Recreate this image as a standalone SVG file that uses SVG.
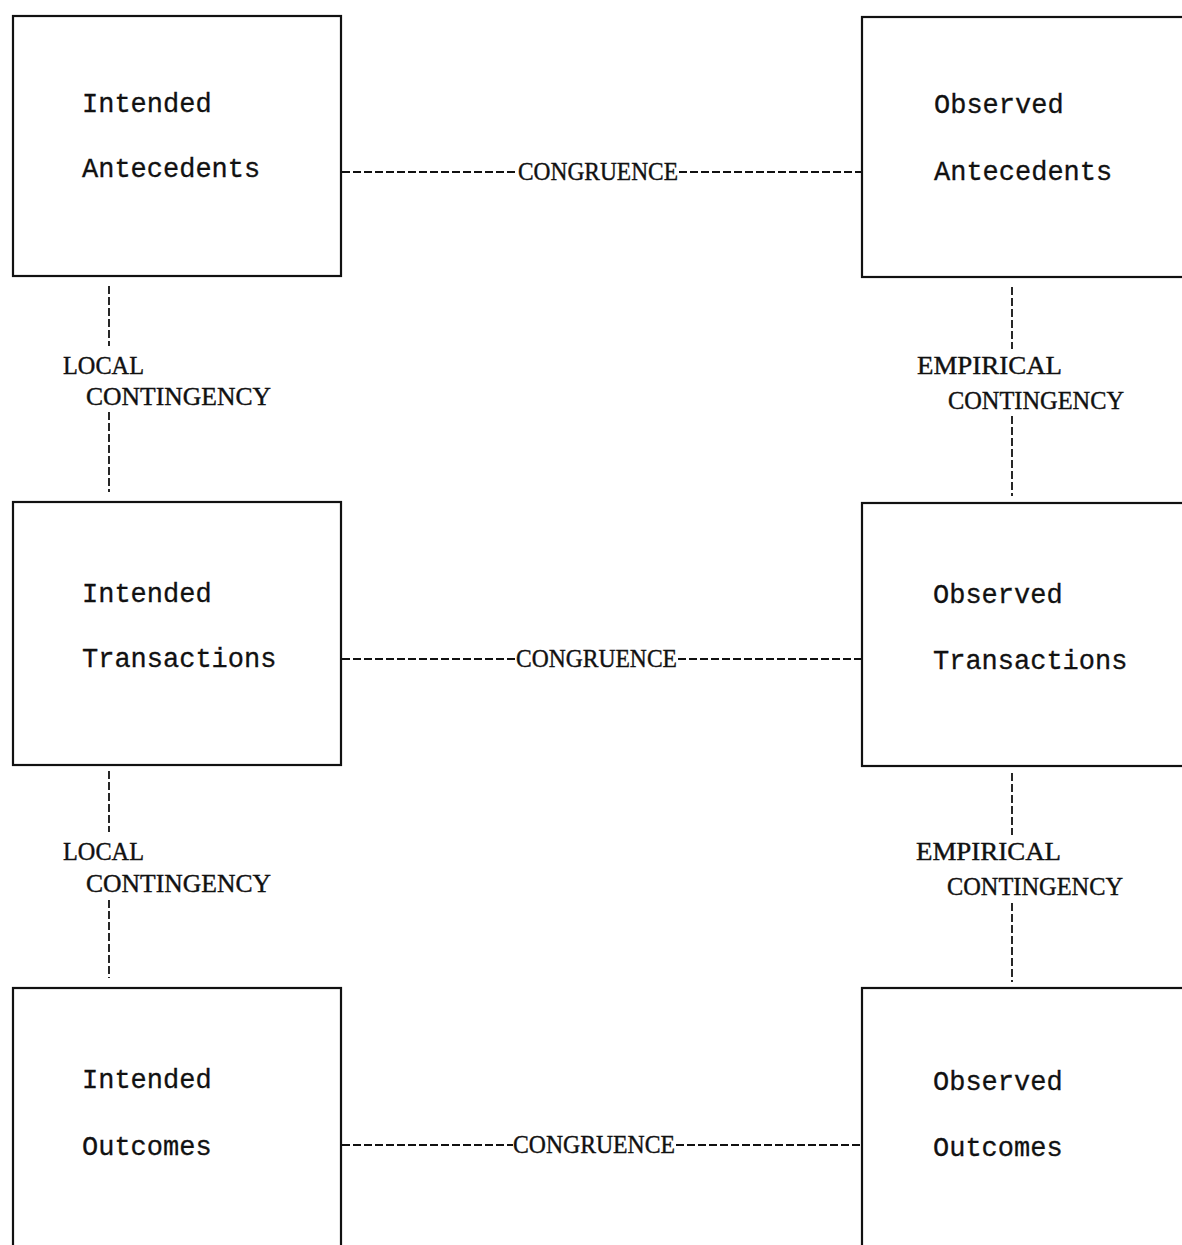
<svg xmlns="http://www.w3.org/2000/svg" width="1182" height="1245" viewBox="0 0 1182 1245">
<style>
.box{fill:none;stroke:#111;stroke-width:2.2}
.lbl{font-family:"Liberation Mono","DejaVu Sans Mono",monospace;font-size:27px;fill:#111;stroke:#111;stroke-width:0.3}
.cap{font-family:"Liberation Serif","DejaVu Serif",serif;font-size:25px;fill:#111;stroke:#111;stroke-width:0.4}
.dash{stroke:#111;stroke-width:1.8;stroke-dasharray:8 3;fill:none}
</style>
<rect width="1182" height="1245" fill="#fff"/>
<g id="intended-antecedents">
<rect class="box" x="13" y="16" width="328" height="260"/>
<text class="lbl" x="82" y="112">Intended</text>
<text class="lbl" x="82" y="177">Antecedents</text>
</g>
<g id="observed-antecedents">
<rect class="box" x="862" y="17" width="400" height="260"/>
<text class="lbl" x="934" y="113">Observed</text>
<text class="lbl" x="934" y="180">Antecedents</text>
</g>
<g id="intended-transactions">
<rect class="box" x="13" y="502" width="328" height="263"/>
<text class="lbl" x="82" y="602">Intended</text>
<text class="lbl" x="82" y="667">Transactions</text>
</g>
<g id="observed-transactions">
<rect class="box" x="862" y="503" width="400" height="263"/>
<text class="lbl" x="933" y="603">Observed</text>
<text class="lbl" x="933" y="669">Transactions</text>
</g>
<g id="intended-outcomes">
<rect class="box" x="13" y="988" width="328" height="400"/>
<text class="lbl" x="82" y="1088">Intended</text>
<text class="lbl" x="82" y="1155">Outcomes</text>
</g>
<g id="observed-outcomes">
<rect class="box" x="862" y="988" width="400" height="400"/>
<text class="lbl" x="933" y="1090">Observed</text>
<text class="lbl" x="933" y="1156">Outcomes</text>
</g>
<g id="connectors">
<line class="dash" x1="342" y1="172" x2="518" y2="172"/>
<text class="cap" x="518" y="180" textLength="160" lengthAdjust="spacingAndGlyphs">CONGRUENCE</text>
<line class="dash" x1="679" y1="172" x2="861" y2="172"/>
<line class="dash" x1="342" y1="659" x2="516" y2="659"/>
<text class="cap" x="516" y="667" textLength="161" lengthAdjust="spacingAndGlyphs">CONGRUENCE</text>
<line class="dash" x1="678" y1="659" x2="861" y2="659"/>
<line class="dash" x1="342" y1="1145" x2="513" y2="1145"/>
<text class="cap" x="513" y="1153" textLength="162" lengthAdjust="spacingAndGlyphs">CONGRUENCE</text>
<line class="dash" x1="676" y1="1145" x2="861" y2="1145"/>
<line class="dash" x1="109" y1="286" x2="109" y2="346"/>
<text class="cap" x="63" y="374" textLength="81" lengthAdjust="spacingAndGlyphs">LOCAL</text>
<text class="cap" x="86" y="405" textLength="185" lengthAdjust="spacingAndGlyphs">CONTINGENCY</text>
<line class="dash" x1="109" y1="412" x2="109" y2="492"/>
<line class="dash" x1="1012" y1="287" x2="1012" y2="349"/>
<text class="cap" x="917" y="374" textLength="145" lengthAdjust="spacingAndGlyphs">EMPIRICAL</text>
<text class="cap" x="948" y="409" textLength="176" lengthAdjust="spacingAndGlyphs">CONTINGENCY</text>
<line class="dash" x1="1012" y1="416" x2="1012" y2="496"/>
<line class="dash" x1="109" y1="771" x2="109" y2="832"/>
<text class="cap" x="63" y="860" textLength="81" lengthAdjust="spacingAndGlyphs">LOCAL</text>
<text class="cap" x="86" y="892" textLength="185" lengthAdjust="spacingAndGlyphs">CONTINGENCY</text>
<line class="dash" x1="109" y1="900" x2="109" y2="978"/>
<line class="dash" x1="1012" y1="773" x2="1012" y2="835"/>
<text class="cap" x="916" y="860" textLength="145" lengthAdjust="spacingAndGlyphs">EMPIRICAL</text>
<text class="cap" x="947" y="895" textLength="176" lengthAdjust="spacingAndGlyphs">CONTINGENCY</text>
<line class="dash" x1="1012" y1="903" x2="1012" y2="982"/>
</g>
</svg>
